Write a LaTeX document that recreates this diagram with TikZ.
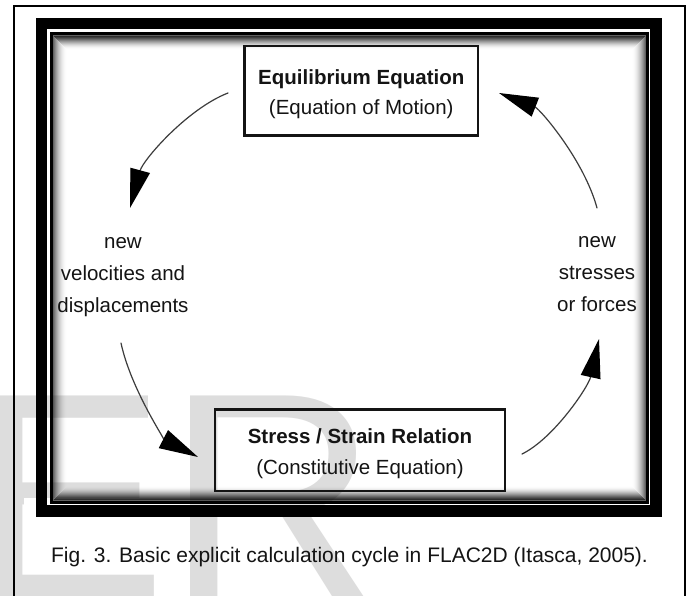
\documentclass[tikz,border=0pt]{standalone}
\usepackage{fontspec}
\setmainfont{Liberation Sans}
\usepackage{tikz}
\usetikzlibrary{arrows.meta}
\definecolor{ink}{HTML}{141414}
\definecolor{wire}{HTML}{3C3C3C}
\definecolor{wmark}{HTML}{DDDDDD}
\newcommand{\boxstrut}{\rule{0pt}{22pt}}
\tikzset{
  rim/.style={draw=black, line width=11.5pt},
  liner/.style={draw=black, line width=3pt},
  eqbox/.style={draw=ink, line width=2.7pt, inner sep=0pt, align=center,
    text=ink, font=\fontsize{20.5}{30.5}\selectfont},
  side/.style={inner sep=0pt, align=center, text=ink,
    font=\fontsize{20.5}{32}\selectfont},
  flow/.style={draw=wire, line width=1.2pt, line cap=round,
    -{Triangle[length=39pt, width=20pt, color=black]}},
  capt/.style={inner sep=0pt, text=ink, font=\fontsize{21}{25}\selectfont}
}

\begin{document}
\begin{tikzpicture}[x=1pt, y=-1pt]
  \useasboundingbox (0,0) rectangle (687,596);
  \fill[white] (0,0) rectangle (687,596);

  % watermark behind everything
  \begin{scope}
    \clip (0,0) rectangle (687,596);
    \node[anchor=base west, inner sep=0pt, text=wmark,
      font=\fontsize{293}{293}\selectfont] (wm) at (-29,597) {ER};
  \end{scope}
  \fill[white] (24,498) rectangle (190,568);

  % inner shadow of the frame
  \foreach \d [evaluate=\d as \op using {0.62*(15-\d)*(15-\d)/196}] in {1,...,14}
    \draw[black, line width=1.1pt, opacity=\op]
      (53+\d-0.5,35.5+\d-0.5) rectangle (646-\d+0.5,500.5-\d+0.5);

  % frames
  \draw[black, line width=1.8pt] (14,600) -- (14,6) -- (685,6) -- (685,600);
  \draw[rim] (41.5,23.5) rectangle (656,511);
  \draw[liner] (51.5,34) rectangle (647.5,502);

  \node[eqbox, minimum width=233.5pt, minimum height=89.5pt] (eqm) at (361.25,90.75)
    {\boxstrut\textbf{Equilibrium Equation}\\(Equation of Motion)};
  \node[eqbox, minimum width=290pt, minimum height=81.5pt] (ssr) at (360,450.25)
    {\boxstrut\textbf{Stress / Strain Relation}\\(Constitutive Equation)};

  \node[side, anchor=north] (vel) at (123,237.4) {new\\velocities and\\displacements};
  \node[side, anchor=north] (frc) at (597,236.4) {new\\stresses\\or forces};

  \coordinate (eqm-l) at (228,93);
  \coordinate (vel-t) at (130,208);
  \coordinate (vel-b) at (121,343);
  \coordinate (ssr-l) at (198,457);
  \coordinate (ssr-r) at (522,454);
  \coordinate (frc-b) at (599,339);
  \coordinate (frc-t) at (597,208);
  \coordinate (eqm-r) at (499,93);

  \draw[flow] (eqm-l) .. controls (187,109) and (143,160) .. (vel-t);
  \draw[flow] (vel-b) .. controls (130.8,388.9) and (165.5,440.2) .. (ssr-l);
  \draw[flow] (ssr-r) .. controls (553.9,438.4) and (588.5,386.6) .. (frc-b);
  \draw[flow] (frc-t) .. controls (584,160) and (540,109) .. (eqm-r);

  \node[capt, anchor=base] (cap) at (349.5,562)
    {Fig. 3. Basic explicit calculation cycle in FLAC2D (Itasca, 2005).};
\end{tikzpicture}
\end{document}
